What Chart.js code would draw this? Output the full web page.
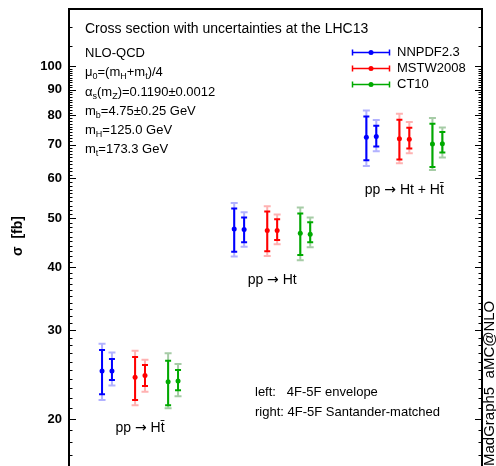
<!DOCTYPE html>
<html><head><meta charset="utf-8">
<script src="https://cdn.jsdelivr.net/npm/chart.js@4.4.0/dist/chart.umd.min.js"></script>
<style>html,body{margin:0;padding:0;background:#fff;overflow:hidden;}#wrap{width:496px;height:486px;}</style>
</head><body><div id="wrap"><canvas id="c" width="496" height="486"></canvas></div>
<script>
// ---------- data ----------
const processes = ["pp \u2192 Ht\u0304", "pp \u2192 Ht", "pp \u2192 Ht + Ht\u0304"];
const pdfSets = ["NNPDF2.3", "MSTW2008", "CT10"];
const yTickValues = [20, 30, 40, 50, 60, 70, 80, 90, 100];

// left: 4F-5F envelope ; right: 4F-5F Santander-matched
const nnpdfEnvCentral = [24.9, 47.6, 72.4];
const nnpdfEnvInnerLo = [22.4, 42.9, 65.2];
const nnpdfEnvInnerHi = [27.4, 52.3, 79.6];
const nnpdfEnvOuterLo = [21.8, 42.0, 63.5];
const nnpdfEnvOuterHi = [28.2, 53.6, 81.8];
const nnpdfMatCentral = [24.9, 47.5, 72.6];
const nnpdfMatInnerLo = [23.9, 44.8, 69.4];
const nnpdfMatInnerHi = [26.3, 50.2, 76.3];
const nnpdfMatOuterLo = [23.3, 43.9, 67.9];
const nnpdfMatOuterHi = [27.1, 51.4, 78.3];

const mstwEnvCentral = [24.2, 47.3, 71.9];
const mstwEnvInnerLo = [21.8, 43.0, 65.4];
const mstwEnvInnerHi = [26.55, 51.6, 78.4];
const mstwEnvOuterLo = [21.3, 42.1, 64.3];
const mstwEnvOuterHi = [27.3, 52.8, 80.6];
const mstwMatCentral = [24.4, 47.3, 71.7];
const mstwMatInnerLo = [23.25, 45.3, 68.8];
const mstwMatInnerHi = [25.6, 49.8, 75.6];
const mstwMatOuterLo = [22.65, 44.4, 67.3];
const mstwMatOuterHi = [26.2, 50.9, 77.6];

const ct10EnvCentral = [23.7, 46.7, 70.2];
const ct10EnvInnerLo = [21.3, 42.3, 63.2];
const ct10EnvInnerHi = [26.1, 51.1, 77.0];
const ct10EnvOuterLo = [21.0, 41.3, 62.3];
const ct10EnvOuterHi = [27.0, 52.5, 79.0];
const ct10MatCentral = [23.8, 46.5, 70.3];
const ct10MatInnerLo = [22.8, 44.8, 67.5];
const ct10MatInnerHi = [25.0, 49.1, 74.1];
const ct10MatOuterLo = [22.2, 43.8, 66.0];
const ct10MatOuterHi = [25.7, 50.2, 75.7];

// ---------- styling ----------
const FONT = '"Liberation Sans", Arial, Helvetica, sans-serif';
const ARROW_FONT = '"DejaVu Sans", sans-serif';
const COLORS = ['rgb(0,0,255)', 'rgb(255,0,0)', 'rgb(0,170,0)'];
const LIGHT = ['rgba(0,0,255,0.3)', 'rgba(255,0,0,0.3)', 'rgba(0,110,0,0.35)'];

const series = [
  {env: [nnpdfEnvCentral, nnpdfEnvInnerLo, nnpdfEnvInnerHi, nnpdfEnvOuterLo, nnpdfEnvOuterHi],
   mat: [nnpdfMatCentral, nnpdfMatInnerLo, nnpdfMatInnerHi, nnpdfMatOuterLo, nnpdfMatOuterHi]},
  {env: [mstwEnvCentral, mstwEnvInnerLo, mstwEnvInnerHi, mstwEnvOuterLo, mstwEnvOuterHi],
   mat: [mstwMatCentral, mstwMatInnerLo, mstwMatInnerHi, mstwMatOuterLo, mstwMatOuterHi]},
  {env: [ct10EnvCentral, ct10EnvInnerLo, ct10EnvInnerHi, ct10EnvOuterLo, ct10EnvOuterHi],
   mat: [ct10MatCentral, ct10MatInnerLo, ct10MatInnerHi, ct10MatOuterLo, ct10MatOuterHi]}
];

function xPos(groupIdx, pdfIdx, kindIdx) { return 1 + groupIdx * 4 + pdfIdx + kindIdx * 0.3; }

const datasets = [];
series.forEach((s, pi) => {
  ['env', 'mat'].forEach((kind, ki) => {
    const [c, il, ih, ol, oh] = s[kind];
    datasets.push({
      label: pdfSets[pi] + (ki ? ' (Santander-matched)' : ' (envelope)'),
      data: c.map((v, gi) => ({x: xPos(gi, pi, ki), y: v})),
      errInner: il.map((lo, i) => [lo, ih[i]]),
      errOuter: ol.map((lo, i) => [lo, oh[i]]),
      pdfIndex: pi,
      backgroundColor: COLORS[pi], borderColor: COLORS[pi],
      pointRadius: 2.5, pointBorderWidth: 0, pointStyle: 'circle', showLine: false
    });
  });
});

function drawRich(ctx, x, y, parts, size) {
  let cx = x;
  parts.forEach(p => {
    const sub = typeof p !== 'string';
    const t = sub ? p.s : p;
    ctx.font = (sub ? Math.round(size * 0.72) : size) + 'px ' + FONT;
    ctx.fillText(t, cx, y + (sub ? size * 0.35 : 0));
    cx += ctx.measureText(t).width;
  });
}

// centered label where the arrow uses a font with a full-size arrow glyph
function drawProcess(ctx, xc, y, label, size) {
  const parts = label.split('\u2192');
  const segs = [[parts[0], size + 'px ' + FONT], ['\u2192', size + 'px ' + ARROW_FONT], [parts[1], size + 'px ' + FONT]];
  let w = 0;
  segs.forEach(s => { ctx.font = s[1]; w += ctx.measureText(s[0]).width; });
  let cx = xc - w / 2;
  ctx.textAlign = 'left';
  segs.forEach(s => { ctx.font = s[1]; ctx.fillText(s[0], cx, y); cx += ctx.measureText(s[0]).width; });
}

const decor = {
  id: 'decor',
  beforeDatasetsDraw(chart) {
    const ctx = chart.ctx, ys = chart.scales.y;
    ctx.save();
    chart.data.datasets.forEach((ds, di) => {
      const meta = chart.getDatasetMeta(di);
      meta.data.forEach((pt, i) => {
        const x = pt.x;
        [[ds.errOuter[i], LIGHT[ds.pdfIndex], 3.5], [ds.errInner[i], COLORS[ds.pdfIndex], 3]].forEach(([r, col, cap]) => {
          const y1 = ys.getPixelForValue(r[0]), y2 = ys.getPixelForValue(r[1]);
          ctx.strokeStyle = col; ctx.lineWidth = 2;
          ctx.beginPath();
          ctx.moveTo(x, y1); ctx.lineTo(x, y2);
          ctx.moveTo(x - cap, y1); ctx.lineTo(x + cap, y1);
          ctx.moveTo(x - cap, y2); ctx.lineTo(x + cap, y2);
          ctx.stroke();
        });
      });
    });
    ctx.restore();
  },
  afterDraw(chart) {
    const ctx = chart.ctx, a = chart.chartArea, ys = chart.scales.y, xs = chart.scales.x;
    ctx.save();
    // frame
    ctx.strokeStyle = '#000'; ctx.lineWidth = 2;
    ctx.strokeRect(a.left, a.top, a.right - a.left, a.bottom - a.top);
    // ticks (inward, both sides)
    ctx.lineWidth = 1;
    const ticks = [];
    for (let v = 15; v < 100; v++) ticks.push([v, v % 10 === 0 ? 7 : 3.5]);
    [100, 110, 120, 130].forEach(v => ticks.push([v, v === 100 ? 7 : 3.5]));
    ctx.beginPath();
    ticks.forEach(([v, len]) => {
      if (v < ys.min || v > ys.max) return;
      const y = Math.round(ys.getPixelForValue(v)) + 0.5;
      ctx.moveTo(a.left, y); ctx.lineTo(a.left + len, y);
      ctx.moveTo(a.right, y); ctx.lineTo(a.right - len, y);
    });
    ctx.stroke();

    ctx.fillStyle = '#000';
    ctx.textBaseline = 'middle'; ctx.textAlign = 'left';
    // title
    ctx.font = '14px ' + FONT;
    ctx.fillText('Cross section with uncertainties at the LHC13', 85, 29);
    // parameter block
    const S = 13;
    drawRich(ctx, 85, 53, ['NLO-QCD'], S);
    drawRich(ctx, 85, 72, ['\u03bc', {s: '0'}, '=(m', {s: 'H'}, '+m', {s: 't'}, ')/4'], S);
    drawRich(ctx, 85, 92, ['\u03b1', {s: 's'}, '(m', {s: 'Z'}, ')=0.1190\u00b10.0012'], S);
    drawRich(ctx, 85, 111, ['m', {s: 'b'}, '=4.75\u00b10.25 GeV'], S);
    drawRich(ctx, 85, 130, ['m', {s: 'H'}, '=125.0 GeV'], S);
    drawRich(ctx, 85, 149, ['m', {s: 't'}, '=173.3 GeV'], S);

    // legend
    pdfSets.forEach((name, i) => {
      const y = 52.5 + 16 * i;
      ctx.strokeStyle = COLORS[i]; ctx.fillStyle = COLORS[i]; ctx.lineWidth = 1.5;
      ctx.beginPath();
      ctx.moveTo(352, y); ctx.lineTo(390, y);
      ctx.moveTo(352.5, y - 3); ctx.lineTo(352.5, y + 3);
      ctx.moveTo(389.5, y - 3); ctx.lineTo(389.5, y + 3);
      ctx.stroke();
      ctx.beginPath(); ctx.arc(371, y, 2.5, 0, Math.PI * 2); ctx.fill();
      ctx.fillStyle = '#000'; ctx.font = '13px ' + FONT;
      ctx.fillText(name, 397, y);
    });

    // process labels under each group
    ctx.fillStyle = '#000';
    processes.forEach((p, gi) => {
      const xc = xs.getPixelForValue((xPos(gi, 0, 0) + xPos(gi, 2, 1)) / 2);
      let low = 0;
      chart.data.datasets.forEach(ds => { low = Math.max(low, ys.getPixelForValue(ds.errOuter[gi][0])); });
      drawProcess(ctx, xc, low + 20, p, 14);
    });

    // bottom note
    ctx.textAlign = 'left'; ctx.font = '13px ' + FONT;
    ctx.fillText('left:   4F-5F envelope', 255, 392);
    ctx.fillText('right: 4F-5F Santander-matched', 255, 412);

    // axis title
    ctx.save();
    ctx.translate(18, 236); ctx.rotate(-Math.PI / 2);
    ctx.textAlign = 'center'; ctx.font = 'bold 14px ' + FONT;
    ctx.fillText('\u03c3  [fb]', 0, 0);
    ctx.restore();

    // program tag
    ctx.save();
    ctx.translate(490, 466); ctx.rotate(-Math.PI / 2);
    ctx.textAlign = 'left'; ctx.font = '15px ' + FONT;
    ctx.fillText('MadGraph5  aMC@NLO', 0, 0);
    ctx.restore();
    ctx.restore();
  }
};

new Chart(document.getElementById('c'), {
  type: 'scatter',
  data: {datasets},
  options: {
    responsive: false, animation: false, devicePixelRatio: 1,
    layout: {padding: {top: 9, right: 14, bottom: 1, left: 0}},
    plugins: {legend: {display: false}, tooltip: {enabled: false}},
    scales: {
      x: {type: 'linear', min: 0, max: 12.5, display: false},
      y: {
        type: 'logarithmic', min: 15, max: 130, position: 'left',
        afterBuildTicks: ax => { ax.ticks = yTickValues.map(v => ({value: v})); },
        afterFit: ax => { ax.width = 69; ax.paddingTop = 0; ax.paddingBottom = 0; },
        ticks: {font: {family: FONT, size: 13, weight: 'bold'}, color: '#000', padding: 7, callback: v => String(v)},
        grid: {display: false, drawTicks: false},
        border: {display: false}
      }
    }
  },
  plugins: [decor]
});
</script></body></html>
